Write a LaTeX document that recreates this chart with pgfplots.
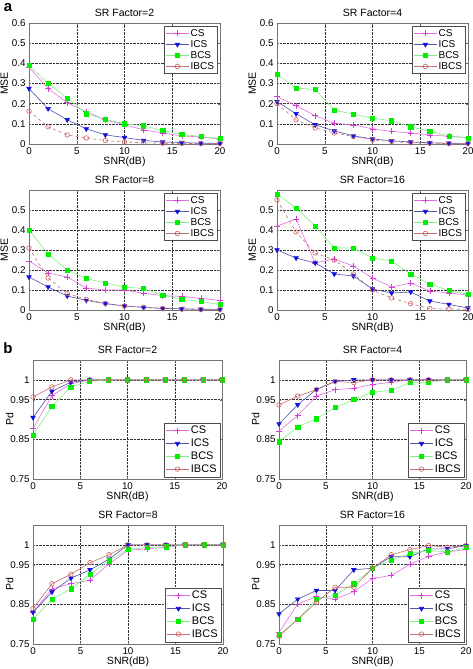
\documentclass[border=0pt]{standalone}
\usepackage{pgfplots}
\usepackage{pgfplotstable}
\pgfplotsset{compat=1.18}
\usepackage{fontspec}
\setmainfont{Liberation Sans}

\definecolor{csline}{HTML}{E070E0}
\definecolor{csmark}{HTML}{D040D0}
\definecolor{icsline}{HTML}{5050B0}
\definecolor{icsmark}{HTML}{1010E0}
\definecolor{bcsline}{HTML}{80F080}
\definecolor{bcsmark}{HTML}{00F000}
\definecolor{ibcsline}{HTML}{C07070}
\definecolor{ibcsmark}{HTML}{D06060}

\pgfplotstableread{
x cs ics bcs ibcs
0 0.38 0.275 0.39 0.163
2 0.275 0.175 0.30 0.085
4 0.205 0.12 0.228 0.045
6 0.16 0.075 0.15 0.03
8 0.12 0.045 0.122 0.017
10 0.095 0.032 0.10 0.010
12 0.07 0.018 0.09 0.006
14 0.055 0.010 0.067 0.004
16 0.04 0.007 0.048 0.003
18 0.035 0.004 0.037 0.002
20 0.025 0.003 0.027 0.002
}\mseA
\pgfplotstableread{
x cs ics bcs ibcs
0 0.235 0.21 0.345 0.20
2 0.19 0.15 0.278 0.12
4 0.14 0.095 0.27 0.08
6 0.103 0.065 0.168 0.055
8 0.095 0.04 0.148 0.037
10 0.075 0.025 0.128 0.02
12 0.062 0.016 0.115 0.012
14 0.055 0.01 0.085 0.006
16 0.045 0.006 0.063 0.004
18 0.038 0.004 0.04 0.002
20 0.032 0.003 0.03 0.002
}\mseB
\pgfplotstableread{
x cs ics bcs ibcs
0 0.245 0.165 0.40 0.31
2 0.185 0.115 0.28 0.16
4 0.165 0.07 0.20 0.082
6 0.11 0.048 0.157 0.053
8 0.10 0.032 0.135 0.033
10 0.10 0.02 0.115 0.02
12 0.083 0.013 0.107 0.014
14 0.072 0.008 0.075 0.008
16 0.068 0.006 0.053 0.004
18 0.058 0.004 0.043 0.002
20 0.048 0.003 0.027 0.002
}\mseC
\pgfplotstableread{
x cs ics bcs ibcs
0 0.42 0.30 0.58 0.55
2 0.455 0.26 0.51 0.39
4 0.235 0.235 0.42 0.285
6 0.255 0.18 0.31 0.25
8 0.22 0.17 0.31 0.18
10 0.16 0.105 0.26 0.10
12 0.115 0.085 0.245 0.06
14 0.135 0.09 0.18 0.032
16 0.095 0.045 0.13 0.007
18 0.085 0.028 0.097 0.005
20 0.075 0.01 0.08 0.003
}\mseD
\pgfplotstableread{
x cs ics bcs ibcs
0 0.877 0.905 0.86 0.957
2 0.96 0.971 0.933 0.982
4 0.99 0.994 0.982 1
6 1 1 0.996 1
8 1 1 1 1
10 1 1 1 1
12 1 1 1 1
14 1 1 1 1
16 1 1 1 1
18 1 1 1 1
20 1 1 1 1
}\pdA
\pgfplotstableread{
x cs ics bcs ibcs
0 0.871 0.889 0.844 0.937
2 0.91 0.937 0.881 0.959
4 0.959 0.976 0.902 0.975
6 0.975 0.996 0.93 0.996
8 0.979 1 0.95 0.993
10 0.988 1 0.969 1
12 0.994 1 0.973 1
14 1 1 0.993 1
16 1 1 0.993 1
18 1 1 1 1
20 1 1 1 1
}\pdB
\pgfplotstableread{
x cs ics bcs ibcs
0 0.83 0.83 0.812 0.839
2 0.889 0.881 0.863 0.902
4 0.902 0.916 0.889 0.926
6 0.911 0.937 0.926 0.955
8 0.952 0.964 0.96 0.975
10 0.986 1 0.989 1
12 0.99 1 0.993 1
14 0.994 1 0.995 1
16 1 1 1 1
18 1 1 1 1
20 1 1 1 1
}\pdC
\pgfplotstableread{
x cs ics bcs ibcs
0 0.779 0.826 0.773 0.77
2 0.851 0.863 0.812 0.812
4 0.869 0.885 0.863 0.855
6 0.863 0.885 0.873 0.893
8 0.882 0.937 0.902 0.893
10 0.915 0.941 0.941 0.941
12 0.923 0.97 0.961 0.975
14 0.951 0.97 0.978 0.988
16 0.971 0.99 0.986 0.998
18 0.982 0.99 0.982 0.994
20 0.988 0.998 0.993 0.998
}\pdD

\pgfplotsset{
  base/.style={
    scale only axis, xmin=0, xmax=20, xtick={0,5,10,15,20},
    grid=major, grid style={densely dotted, black!80, line width=0.5pt},
    axis line style={black!55}, tick style={black!55},
    major tick length=2pt, tick align=inside,
    tick label style={font=\fontsize{9.8}{10}\selectfont},
    /pgf/number format/assume math mode=true,
    yticklabel style={/pgf/number format/fixed, /pgf/number format/precision=2},
    title style={font=\fontsize{10.5}{12}\selectfont, yshift=-3pt},
    label style={font=\fontsize{10.5}{12}\selectfont},
    xlabel={SNR(dB)}, xlabel style={yshift=4pt}, ylabel style={yshift=-3pt},
    legend cell align=left,
    legend image code/.code={\draw[mark repeat=2,mark phase=2] plot coordinates {(0cm,0cm)(0.4cm,0cm)(0.8cm,0cm)};},
  },
  mse/.style={base, ymin=0, ymax=0.6, ytick={0,0.1,0.2,0.3,0.4,0.5,0.6}, ylabel={MSE},
    legend style={at={(0.985,0.975)}, anchor=north east, draw=black!70,
      font=\fontsize{10}{10}\selectfont, inner sep=1.5pt, row sep=-0.5pt,
      nodes={inner sep=1.5pt}}},
  pd/.style={base, ymin=0.75, ymax=1.05, ytick={0.75,0.85,0.95,1}, ylabel={Pd},
    ylabel style={yshift=-7pt},
    legend style={at={(0.99,0.015)}, anchor=south east, draw=black!70,
      font=\fontsize{11}{11}\selectfont, inner sep=1.5pt, row sep=0pt,
      nodes={inner sep=1.8pt}}},
  csS/.style={color=csline, line width=0.6pt, mark=+, mark size=3pt, mark options={draw=csmark, solid}},
  icsS/.style={color=icsline, line width=0.6pt, mark=triangle*, mark size=2.6pt, mark options={rotate=180, draw=icsmark, fill=icsmark, solid}},
  bcsS/.style={color=bcsline, line width=0.6pt, mark=square*, mark size=2.1pt, mark options={draw=bcsmark, fill=bcsmark, solid}},
  ibcsS/.style={color=ibcsline, line width=0.6pt, mark=o, mark size=2.3pt, mark options={draw=ibcsmark, fill=white, solid}},
}

\newcommand{\fourplots}[2]{%
  \addplot[csS] table[x=x,y=cs]{#1};
  \addplot[icsS] table[x=x,y=ics]{#1};
  \addplot[bcsS] table[x=x,y=bcs]{#1};
  \addplot[ibcsS,#2,legend image post style={solid}] table[x=x,y=ibcs]{#1};
  \legend{CS,ICS,BCS,IBCS}
}

\begin{document}
\begin{tikzpicture}
\path[use as bounding box] (0,0) rectangle (472pt,669pt);
\node[font=\fontsize{15}{15}\selectfont\bfseries] at (8pt,661pt) {a};
\node[font=\fontsize{15}{15}\selectfont\bfseries] at (8pt,321pt) {b};

% row 1
\begin{axis}[mse, width=191pt, height=121pt, at={(29pt,525pt)}, anchor=south west, title={SR Factor=2}]
\fourplots{\mseA}{dashed}
\end{axis}
\begin{axis}[mse, width=191pt, height=121pt, at={(277pt,525pt)}, anchor=south west, title={SR Factor=4}]
\fourplots{\mseB}{dashed}
\end{axis}
% row 2
\begin{axis}[mse, ytick={0,0.1,0.2,0.3,0.4,0.5}, width=191pt, height=120pt, at={(29pt,359pt)}, anchor=south west, title={SR Factor=8}]
\fourplots{\mseC}{dashed}
\end{axis}
\begin{axis}[mse, ytick={0,0.1,0.2,0.3,0.4,0.5}, width=191pt, height=120pt, at={(277pt,359pt)}, anchor=south west, title={SR Factor=16}]
\fourplots{\mseD}{dashed}
\end{axis}
% row 3
\begin{axis}[pd, width=189pt, height=119pt, at={(33pt,190pt)}, anchor=south west, title={SR Factor=2}]
\fourplots{\pdA}{solid}
\end{axis}
\begin{axis}[pd, width=187pt, height=119pt, at={(279pt,190pt)}, anchor=south west, title={SR Factor=4}]
\fourplots{\pdB}{solid}
\end{axis}
% row 4
\begin{axis}[pd, width=190pt, height=119pt, at={(33pt,25pt)}, anchor=south west, title={SR Factor=8}]
\fourplots{\pdC}{solid}
\end{axis}
\begin{axis}[pd, width=187pt, height=119pt, at={(279pt,25pt)}, anchor=south west, title={SR Factor=16}]
\fourplots{\pdD}{solid}
\end{axis}
\end{tikzpicture}
\end{document}
